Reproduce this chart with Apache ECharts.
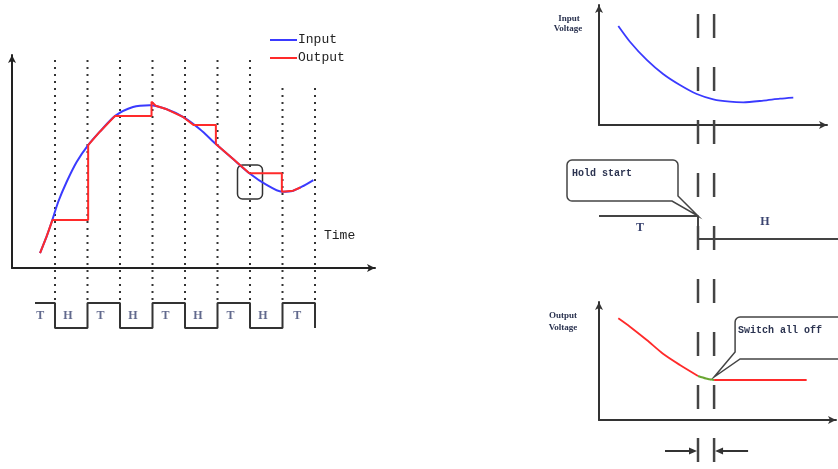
<!DOCTYPE html>
<html><head><meta charset="utf-8">
<script src="https://cdn.jsdelivr.net/npm/echarts@6/dist/echarts.min.js"></script>
<style>html,body{margin:0;padding:0;background:#fff}#c{width:838px;height:469px}</style>
</head><body><div id="c"></div>
<script>
// ---------- Left chart: track & hold ----------
const inputT  = [0.54,0.74,0.90,1.10,1.36,1.67,2.02,2.38,2.85,3.40,3.92,4.44,4.95,5.46,5.95,6.49,6.98,7.51,7.98,8.33,8.64,8.95];
const inputV  = [0.70,1.47,2.17,3.11,4.05,4.99,5.77,6.40,7.14,7.56,7.64,7.45,7.08,6.51,5.82,5.10,4.45,3.90,3.58,3.63,3.85,4.13];
const outputT = [0.54,0.74,0.92,2.02,2.02,2.38,2.85,3.97,3.97,4.10,4.44,4.95,5.26,5.95,5.95,6.49,6.98,7.98,7.98,8.33,8.55];
const outputV = [0.70,1.47,2.25,2.25,5.77,6.40,7.14,7.14,7.80,7.62,7.45,7.08,6.71,6.71,5.82,5.10,4.45,4.45,3.58,3.63,3.78];
const gridLineT   = [1,2,3,4,5,6,7,8,9];
const gridLineTop = [1,1,1,1,1,1,1,0.885,0.885];
const waveT     = [0.385,1,1,2,2,3,3,4,4,5,5,6,6,7,7,8,8,9,9];
const waveLevel = [1,1,0,0,1,1,0,0,1,1,0,0,1,1,0,0,1,1,0];
const phaseX      = [0.55,1.4,2.4,3.4,4.4,5.4,6.4,7.4,8.45];
const phaseLabels = ['T','H','T','H','T','H','T','H','T'];

// ---------- Right panels ----------
const inVoltT = [7.8,12.5,19.3,25.9,32.7,39.5,46.2,52.9,58.3,66.4,73.1,78.5];
const inVoltV = [8.25,6.94,5.42,4.25,3.33,2.58,2.14,1.94,1.89,2.03,2.19,2.28];
const holdT     = [0,40,40,100];
const holdLevel = [1,1,0,0];
const outTrackT = [7.8,12.5,19.3,26.0,32.7,40.0];
const outTrackV = [8.62,7.91,6.78,5.59,4.66,3.73];
const outHoldT  = [40.0,43.2,46.5];
const outHoldV  = [3.73,3.52,3.39];
const outOffT   = [46.5,83.9];
const outOffV   = [3.39,3.39];
const markerT   = [40, 46.5];

const zip = (a, b) => a.map((v, i) => [v, b[i]]);
const PXT = 2.475; // px per time unit on right column
const FONT = '"Liberation Mono", monospace';
const SERIF = '"Liberation Serif", serif';

const arrowAxis = (color) => ({show:true, onZero:false, symbol:['none','arrow'], symbolSize:[6,8],
  lineStyle:{color:color, width:2}});
const visAxis = (gi, min, max, color) => ({gridIndex:gi, type:'value', min:min, max:max,
  axisLine:arrowAxis(color), axisTick:{show:false}, axisLabel:{show:false}, splitLine:{show:false}});
const hidAxis = (gi, min, max) => ({gridIndex:gi, type:'value', min:min, max:max, show:false, splitLine:{show:false}});

const grids = [
  {left:12,  top:55,  width:363, height:213},   // 0 L main
  {left:12,  top:57,  width:363, height:243},   // 1 L dotted overlay
  {left:12,  top:303, width:363, height:25},    // 2 L square wave
  {left:599, top:5,   width:228, height:120},   // 3 R input
  {left:599, top:216, width:239, height:23},    // 4 R hold signal
  {left:599, top:302, width:237, height:118},   // 5 R output
  {left:599, top:14,  width:239, height:451}    // 6 R dashed overlay
];
const LMIN = -0.323, LMAX = 10.846;

const xAxes = [
  visAxis(0, LMIN, LMAX, '#222'),
  hidAxis(1, LMIN, LMAX),
  hidAxis(2, LMIN, LMAX),
  visAxis(3, 0, 228/PXT, '#333'),
  hidAxis(4, 0, 239/PXT),
  visAxis(5, 0, 237/PXT, '#333'),
  hidAxis(6, 0, 239/PXT)
];
const yAxes = [
  visAxis(0, 0, 10, '#222'),
  hidAxis(1, 0, 1),
  hidAxis(2, 0, 1),
  visAxis(3, 0, 10, '#333'),
  hidAxis(4, 0, 1),
  visAxis(5, 0, 10, '#333'),
  hidAxis(6, 0, 1)
];

const line = (name, gi, data, color, width, type, extra) => Object.assign({
  name:name, type:'line', xAxisIndex:gi, yAxisIndex:gi, data:data, showSymbol:false, symbol:'none',
  color:color, lineStyle:{color:color, width:width, type:type || 'solid'}, silent:true, animation:false
}, extra || {});

const series = [];
gridLineT.forEach((t, i) => series.push(line('g'+i, 1, [[t,0],[t,gridLineTop[i]]], '#333', 2, [2,5])));
series.push(line('Input', 0, zip(inputT, inputV), '#3a3aff', 2, null, {smooth:0.25}));
series.push(line('Output', 0, zip(outputT, outputV), '#ff2a2a', 2));
series.push(line('wave', 2, zip(waveT, waveLevel), '#333', 2));
series.push({type:'scatter', xAxisIndex:2, yAxisIndex:2, symbolSize:1, itemStyle:{color:'rgba(0,0,0,0)'}, silent:true, animation:false,
  data: phaseX.map((x, i) => ({value:[x, 0.5], name:phaseLabels[i]})),
  label:{show:true, position:'inside', formatter:'{b}', fontSize:12, fontWeight:'bold',
    fontFamily:SERIF, color:'#3a4470'}});
markerT.forEach((t, i) => series.push(line('m'+i, 6, [[t,1],[t,0]], '#444', 2.5, [24,29])));
series.push(line('inV', 3, zip(inVoltT, inVoltV), '#3a3aff', 1.8, null, {smooth:0.25}));
series.push(line('hold', 4, zip(holdT, holdLevel), '#444', 2));
series.push(line('outTrack', 5, zip(outTrackT, outTrackV), '#ff2a2a', 1.8, null, {smooth:0.25}));
series.push(line('outHold', 5, zip(outHoldT, outHoldV), '#6aa632', 2, null, {smooth:0.25}));
series.push(line('outOff', 5, zip(outOffT, outOffV), '#ff2a2a', 1.8));

const chart = echarts.init(document.getElementById('c'), null, {renderer:'canvas'});
chart.setOption({
  animation:false,
  backgroundColor:'#fff',
  grid: grids,
  xAxis: xAxes,
  yAxis: yAxes,
  legend: {data:['Input','Output'], orient:'vertical', left:265, top:28, icon:'rect',
    itemWidth:27, itemHeight:2, itemGap:4, selectedMode:false,
    textStyle:{fontFamily:FONT, fontSize:13, color:'#222', lineHeight:14, padding:[0,0,0,-4]}},
  series: series
});

const P = (gi, pt) => chart.convertToPixel({gridIndex:gi}, pt);
const txt = (text, x, y, size, align, weight, fill, family) => ({type:'text', x:x, y:y, silent:true,
  style:{text:text, font:(weight||'normal')+' '+size+'px '+(family||FONT), fill:fill||'#2b3350',
    align:align||'left', textAlign:align||'left', verticalAlign:'middle', textVerticalAlign:'middle'}});
const corner = (cx, cy, r, a0, a1) => {
  const pts = [];
  for (let k = 0; k <= 4; k++) { const a = a0 + (a1 - a0) * k / 4; pts.push([cx + r*Math.cos(a), cy + r*Math.sin(a)]); }
  return pts;
};
const PI = Math.PI;

const box = P(0, [7.0, 4.04]);
const hs = P(4, [40, 1]);
const so = P(5, [46.5, 3.39]); so[1] -= 3;
const a1 = P(5, [40, 0])[0], a2 = P(5, [46.5, 0])[0];
const ay = 451;

const hx = hs[0], hy = hs[1], r = 5;
const holdPts = [].concat(
  [[hx-26, hy-15]],
  corner(hx-126, hy-20, r, PI/2, PI),
  corner(hx-126, hy-51, r, PI, 1.5*PI),
  corner(hx-25, hy-51, r, 1.5*PI, 2*PI),
  [[hx-20, hy-20], [hx, hy], [hx-26, hy-15]]
);
const sx = so[0], sy = so[1];
const offPts = [].concat(
  [[sx+140, sy-18], [sx+26, sy-18], [sx, sy], [sx+21, sy-25]],
  corner(sx+26, sy-55, r, PI, 1.5*PI),
  [[sx+140, sy-60]]
);

chart.setOption({graphic: [
  {type:'rect', silent:true, shape:{x:box[0]-12.5, y:box[1]-17, width:25, height:34, r:5},
    style:{fill:'none', stroke:'#333', lineWidth:1.5}},
  txt('Time', 324, 236, 13, 'left', 'normal', '#222'),
  txt('Input', 569, 19, 9, 'center', 'bold', '#2b3350', SERIF),
  txt('Voltage', 568, 29, 9, 'center', 'bold', '#2b3350', SERIF),
  txt('Output', 563, 316, 9, 'center', 'bold', '#2b3350', SERIF),
  txt('Voltage', 563, 328, 9, 'center', 'bold', '#2b3350', SERIF),
  txt('T', 640, 228, 12, 'center', 'bold', '#3a4470', SERIF),
  txt('H', 765, 222, 12, 'center', 'bold', '#3a4470', SERIF),
  {type:'polygon', silent:true, shape:{points:holdPts}, style:{fill:'#fff', stroke:'#444', lineWidth:1.5}},
  txt('Hold start', hx-126, hy-43, 10, 'left', 'bold'),
  {type:'polyline', silent:true, shape:{points:offPts}, style:{fill:'none', stroke:'#444', lineWidth:1.5}},
  txt('Switch all off', sx+24, sy-47, 10, 'left', 'bold'),
  {type:'line', silent:true, shape:{x1:a1-33, y1:ay, x2:a1-6, y2:ay}, style:{stroke:'#333', lineWidth:2}},
  {type:'polygon', silent:true, shape:{points:[[a1-1,ay],[a1-9,ay-3.5],[a1-9,ay+3.5]]}, style:{fill:'#333'}},
  {type:'line', silent:true, shape:{x1:a2+34, y1:ay, x2:a2+6, y2:ay}, style:{stroke:'#333', lineWidth:2}},
  {type:'polygon', silent:true, shape:{points:[[a2+1,ay],[a2+9,ay-3.5],[a2+9,ay+3.5]]}, style:{fill:'#333'}}
]});
</script></body></html>
